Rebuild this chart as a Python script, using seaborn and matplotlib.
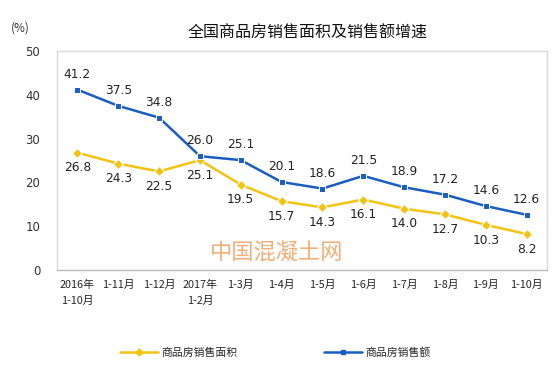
import numpy as np
import pandas as pd
import matplotlib
matplotlib.use('Agg')
import matplotlib.pyplot as plt
import seaborn as sns

# 数据
months = ['2016年\n1-10月', '1-11月', '1-12月', '2017年\n1-2月', '1-3月', '1-4月',
          '1-5月', '1-6月', '1-7月', '1-8月', '1-9月', '1-10月']
area = [26.8, 24.3, 22.5, 25.1, 19.5, 15.7, 14.3, 16.1, 14.0, 12.7, 10.3, 8.2]
sales = [41.2, 37.5, 34.8, 26.0, 25.1, 20.1, 18.6, 21.5, 18.9, 17.2, 14.6, 12.6]
yticks = [0, 10, 20, 30, 40, 50]

name_area = '商品房销售面积'
name_sales = '商品房销售额'

sns.set_style('white')
plt.rcParams['font.family'] = ['Noto Sans CJK SC', 'DejaVu Sans']

df = pd.DataFrame({
    'month': months * 2,
    'value': area + sales,
    'series': [name_area] * len(months) + [name_sales] * len(months),
})

yellow = '#F2C311'
blue = '#1A5DC2'

fig = plt.figure(figsize=(5.56, 3.76), dpi=100)
ax = fig.add_axes([0.1025, 0.282, 0.8815, 0.582])

sns.lineplot(data=df, x='month', y='value', hue='series', style='series',
             palette={name_area: yellow, name_sales: blue},
             markers={name_area: 'D', name_sales: 's'}, dashes=False,
             markersize=5, linewidth=1.8, sort=False, ax=ax, legend=False)

# 数据标签
for i, (a, s) in enumerate(zip(area, sales)):
    ax.text(i, s + 2.0, f'{s:.1f}', ha='center', va='bottom', fontsize=8.8,
            color='#222222', family='DejaVu Sans')
    ax.text(i, a - 2.0, f'{a:.1f}', ha='center', va='top', fontsize=8.8,
            color='#222222', family='DejaVu Sans')

ax.set_xlim(-0.5, len(months) - 0.5)
ax.set_ylim(0, 50)
ax.set_yticks(yticks)
ax.set_yticklabels([str(t) for t in yticks], family='DejaVu Sans')
ax.set_xticks(range(len(months)))
ax.set_xticklabels(months, fontsize=7.8, linespacing=1.75)
ax.set_xticks(np.arange(0.5, len(months) - 0.5, 1), minor=True)
ax.tick_params(axis='x', which='major', length=0, pad=7)
ax.tick_params(axis='x', which='minor', length=4, direction='in', color='#BBBBBB')
ax.tick_params(axis='y', length=3, color='#BBBBBB', labelsize=8.5, pad=9, labelcolor='#333333')
ax.set_xlabel('')
ax.set_ylabel('')
for sp in ax.spines.values():
    sp.set_color('#D9D9D9')
    sp.set_linewidth(1.0)
ax.spines['bottom'].set_color('#BBBBBB')

fig.text(0.02, 0.915, '(%)', fontsize=8.5, color='#333333')
fig.text(0.553, 0.912, '全国商品房销售面积及销售额增速', ha='center', va='center',
         fontsize=11.5, color='#111111')

# 水印
fig.text(0.497, 0.327, '中国混凝土网', ha='center', va='center', fontsize=16,
         color='#F0A060', alpha=0.85)

handles = [
    plt.Line2D([], [], color=yellow, marker='D', markersize=3.5, linewidth=1.8),
    plt.Line2D([], [], color=blue, marker='s', markersize=3.5, linewidth=1.8),
]
fig.legend(handles, [name_area, name_sales], loc='center', bbox_to_anchor=(0.495, 0.063),
           ncol=2, frameon=False, fontsize=7.8, columnspacing=8, handlelength=3.5,
           handletextpad=0.3)

fig.savefig('out.png', dpi=100)
